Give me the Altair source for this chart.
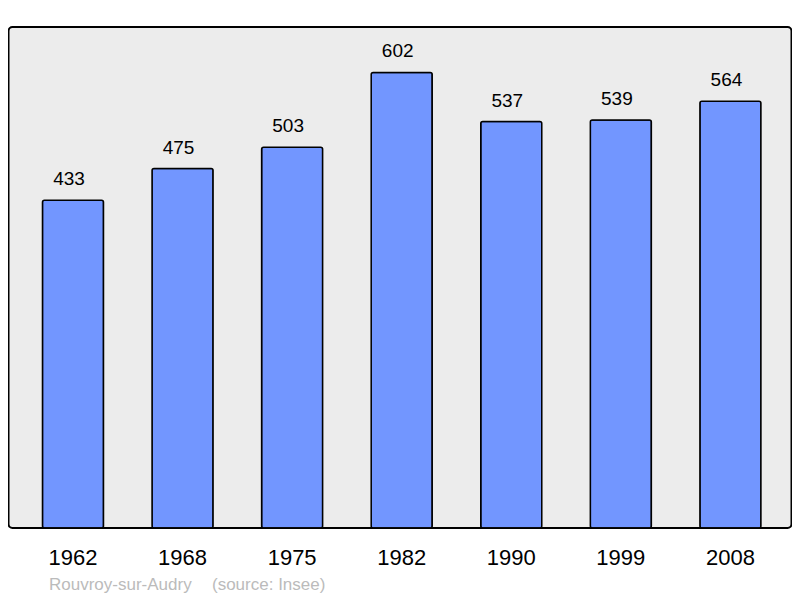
import altair as alt
import pandas as pd

years = ["1962", "1968", "1975", "1982", "1990", "1999", "2008"]
population = [433, 475, 503, 602, 537, 539, 564]
place = ["Rouvroy-sur-Audry"]
source = ["(source: Insee)"]

df = pd.DataFrame({"year": years, "pop": population})

FONT = "Liberation Sans"

x = alt.X(
    "year:N",
    sort=years,
    scale=alt.Scale(range=[9.7, 776.7], paddingInner=0.443, paddingOuter=0.2215),
    axis=alt.Axis(
        title=None, labelAngle=0, labelFontSize=22, labelColor="black",
        labelFont=FONT, ticks=False, domain=False, labelPadding=36,
        labelBaseline="alphabetic", grid=False,
    ),
)
y = alt.Y("pop:Q", scale=alt.Scale(domain=[0, 662], nice=False, zero=True), axis=None)

base = alt.Chart(df)
bars = base.mark_bar(
    color="#7296ff", stroke="black", strokeWidth=1.5, cornerRadius=2
).encode(x=x, y=y)
labels = base.mark_text(
    dy=-15, dx=-4, baseline="alphabetic", fontSize=19, font=FONT, color="black"
).encode(x=x, y=y, text="pop:Q")

t1 = alt.Chart(pd.DataFrame({"t": place})).mark_text(
    align="left", baseline="alphabetic", fontSize=17, font=FONT, color="#bbbbbb"
).encode(x=alt.value(40.5), y=alt.value(563), text="t:N")
t2 = alt.Chart(pd.DataFrame({"t": source})).mark_text(
    align="left", baseline="alphabetic", fontSize=17, font=FONT, color="#bbbbbb"
).encode(x=alt.value(203.5), y=alt.value(563), text="t:N")

chart = alt.layer(bars, labels, t1, t2).properties(
    width=783, height=501,
    autosize=alt.AutoSizeParams(type="none"),
    padding={"left": 0.5, "top": 19, "right": 0.5, "bottom": 70},
    background="white",
).configure_view(
    fill="#ececec", stroke="black", strokeWidth=2, cornerRadius=4
)

chart.save("out.html", embed_options={"renderer": "svg", "actions": False})
